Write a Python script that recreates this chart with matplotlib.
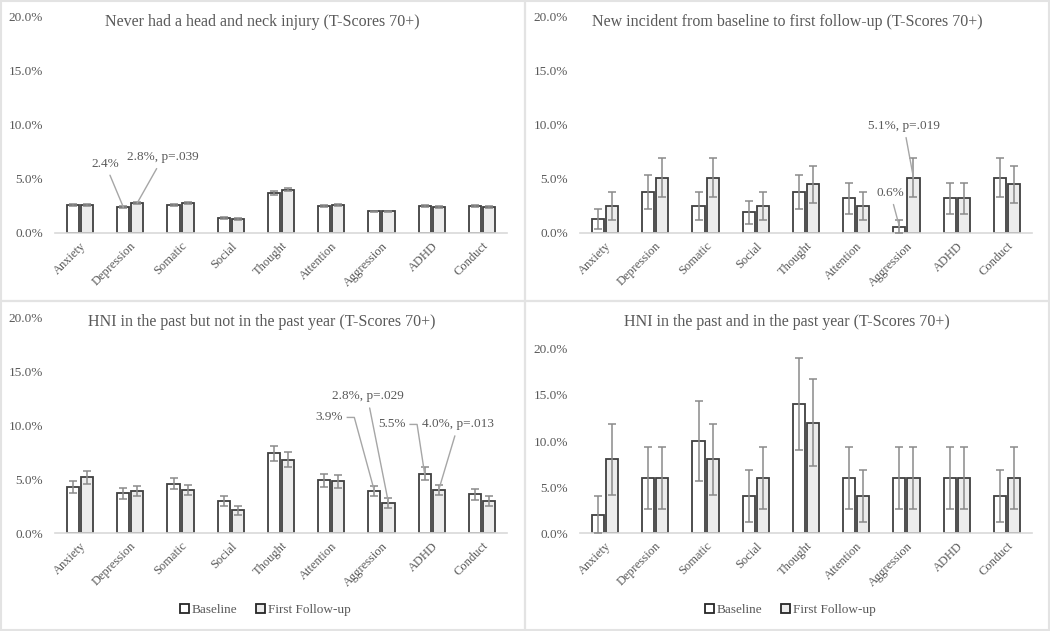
import matplotlib.pyplot as plt
import matplotlib.patches as mpatches
import numpy as np

categories = ['Anxiety', 'Depression', 'Somatic', 'Social', 'Thought',
              'Attention', 'Aggression', 'ADHD', 'Conduct']

# panel 1: never had a head and neck injury
never_base = [2.6, 2.4, 2.6, 1.4, 3.7, 2.5, 2.0, 2.5, 2.5]
never_fu = [2.6, 2.8, 2.8, 1.3, 4.0, 2.6, 2.0, 2.4, 2.4]
never_base_err = [0.1, 0.1, 0.1, 0.07, 0.15, 0.1, 0.08, 0.1, 0.1]
never_fu_err = [0.1, 0.1, 0.1, 0.07, 0.15, 0.1, 0.08, 0.1, 0.1]

# panel 2: new incident from baseline to first follow-up
new_base = [1.3, 3.8, 2.5, 1.9, 3.8, 3.2, 0.6, 3.2, 5.1]
new_fu = [2.5, 5.1, 5.1, 2.5, 4.5, 2.5, 5.1, 3.2, 4.5]
new_base_err = [0.9, 1.6, 1.3, 1.1, 1.6, 1.4, 0.6, 1.4, 1.8]
new_fu_err = [1.3, 1.8, 1.8, 1.3, 1.7, 1.3, 1.8, 1.4, 1.7]

# panel 3: HNI in the past but not in the past year
past_base = [4.3, 3.7, 4.6, 3.0, 7.4, 4.9, 3.9, 5.5, 3.6]
past_fu = [5.2, 3.9, 4.0, 2.1, 6.8, 4.8, 2.8, 4.0, 3.0]
past_base_err = [0.55, 0.5, 0.55, 0.45, 0.7, 0.6, 0.5, 0.6, 0.5]
past_fu_err = [0.6, 0.5, 0.5, 0.4, 0.7, 0.6, 0.45, 0.5, 0.45]

# panel 4: HNI in the past and in the past year
year_base = [2.0, 6.0, 10.0, 4.0, 14.0, 6.0, 6.0, 6.0, 4.0]
year_fu = [8.0, 6.0, 8.0, 6.0, 12.0, 4.0, 6.0, 6.0, 6.0]
year_base_err = [2.0, 3.4, 4.3, 2.8, 5.0, 3.4, 3.4, 3.4, 2.8]
year_fu_err = [3.9, 3.4, 3.9, 3.4, 4.7, 2.8, 3.4, 3.4, 3.4]

TEXT = '#595959'
EDGE = '#404040'
FU_FILL = '#ececec'
ERR = '#8a8a8a'
LINE = '#a6a6a6'

W, H = 1050, 631
plt.rcParams['font.family'] = 'Liberation Serif'


def px_axes(fig, left, right, top, bottom):
    return fig.add_axes([left / W, 1 - bottom / H, (right - left) / W, (bottom - top) / H])


def panel(ax, base, fu, base_err, fu_err):
    x = np.arange(len(categories))
    w = 0.24
    off = 0.14
    ax.bar(x - off, base, w, color='white', edgecolor=EDGE, linewidth=1.3, zorder=2)
    ax.bar(x + off, fu, w, color=FU_FILL, edgecolor=EDGE, linewidth=1.3, zorder=2)
    ax.errorbar(x - off, base, yerr=base_err, fmt='none', ecolor=ERR, elinewidth=1.1,
                capsize=3, capthick=1.1, zorder=3)
    ax.errorbar(x + off, fu, yerr=fu_err, fmt='none', ecolor=ERR, elinewidth=1.1,
                capsize=3, capthick=1.1, zorder=3)
    ax.set_xlim(-0.5, len(categories) - 0.5)
    ax.set_ylim(0, 20)
    ax.set_yticks([0, 5, 10, 15, 20])
    ax.set_yticklabels(['%.1f%%' % v for v in [0, 5, 10, 15, 20]], fontsize=9.5, color=TEXT)
    ax.set_xticks(x)
    ax.set_xticklabels(categories, rotation=45, ha='right', rotation_mode='anchor',
                       fontsize=9, color=TEXT)
    ax.tick_params(axis='both', length=0)
    ax.tick_params(axis='x', pad=5)
    ax.tick_params(axis='y', pad=8.5)
    for s in ['top', 'right', 'left']:
        ax.spines[s].set_visible(False)
    ax.spines['bottom'].set_color('#d9d9d9')
    ax.spines['bottom'].set_linewidth(1.2)
    ax.patch.set_alpha(0)


def callout(ax, text, txy, xy):
    ax.annotate(text, xy=xy, xytext=txy, fontsize=9.5, color=TEXT, ha='center', va='center',
                arrowprops=dict(arrowstyle='-', color=LINE, lw=1, shrinkA=2, shrinkB=0))


fig = plt.figure(figsize=(10.5, 6.31), dpi=100)

# panel frames
for (l, t, r, b) in [(1, 1, 525, 301), (525, 1, 1049, 301), (1, 301, 525, 630), (525, 301, 1049, 630)]:
    fig.patches.append(mpatches.Rectangle((l / W, 1 - b / H), (r - l) / W, (b - t) / H,
                                          transform=fig.transFigure, fill=False,
                                          edgecolor='#e3e3e3', linewidth=1.5))

ax1 = px_axes(fig, 55, 507, 17, 233)
panel(ax1, never_base, never_fu, never_base_err, never_fu_err)
ax2 = px_axes(fig, 580, 1032, 17, 233)
panel(ax2, new_base, new_fu, new_base_err, new_fu_err)
ax3 = px_axes(fig, 55, 507, 318, 533)
panel(ax3, past_base, past_fu, past_base_err, past_fu_err)
ax4 = px_axes(fig, 580, 1032, 349, 533)
panel(ax4, year_base, year_fu, year_base_err, year_fu_err)

titles = [('Never had a head and neck injury (T-Scores 70+)', 262, 22),
          ('New incident from baseline to first follow-up (T-Scores 70+)', 787, 22),
          ('HNI in the past but not in the past year (T-Scores 70+)', 262, 322),
          ('HNI in the past and in the past year (T-Scores 70+)', 787, 322)]
for t, x, y in titles:
    fig.text(x / W, 1 - y / H, t, ha='center', va='center', fontsize=11.5, color=TEXT)

# callouts
off = 0.14
callout(ax1, '2.4%', (0.5, 6.4), (1 - off, never_base[1]))
callout(ax1, '2.8%, p=.039', (1.65, 7.0), (1 + off, never_fu[1]))
callout(ax2, '5.1%, p=.019', (5.95, 9.9), (6 + off, new_fu[6]))
callout(ax2, '0.6%', (5.68, 3.7), (6 - off, new_base[6]))
callout(ax3, '2.8%, p=.029', (5.72, 12.7), (6 + off, past_fu[6]))
callout(ax3, '4.0%, p=.013', (7.53, 10.1), (7 + off, past_fu[7]))
ax3.text(4.96, 10.75, '3.9%', fontsize=9.5, color=TEXT, ha='center', va='center')
ax3.plot([5.32, 5.46, 6 - off], [10.75, 10.75, past_base[6]], color=LINE, lw=1, zorder=4)
ax3.text(6.21, 10.1, '5.5%', fontsize=9.5, color=TEXT, ha='center', va='center')
ax3.plot([6.57, 6.71, 7 - off], [10.1, 10.1, past_base[7]], color=LINE, lw=1, zorder=4)

# legends
h_base = mpatches.Patch(facecolor='white', edgecolor='#262626', linewidth=1.3, label='Baseline')
h_fu = mpatches.Patch(facecolor=FU_FILL, edgecolor='#262626', linewidth=1.3, label='First Follow-up')
for cx in [265, 790]:
    fig.legend(handles=[h_base, h_fu], loc='center', bbox_to_anchor=(cx / W, 1 - 610 / H),
               ncol=2, frameon=False, fontsize=9.5, labelcolor=TEXT, handlelength=0.7,
               handleheight=0.7, handletextpad=0.2, columnspacing=1.4)

fig.savefig('out.png', dpi=100)
